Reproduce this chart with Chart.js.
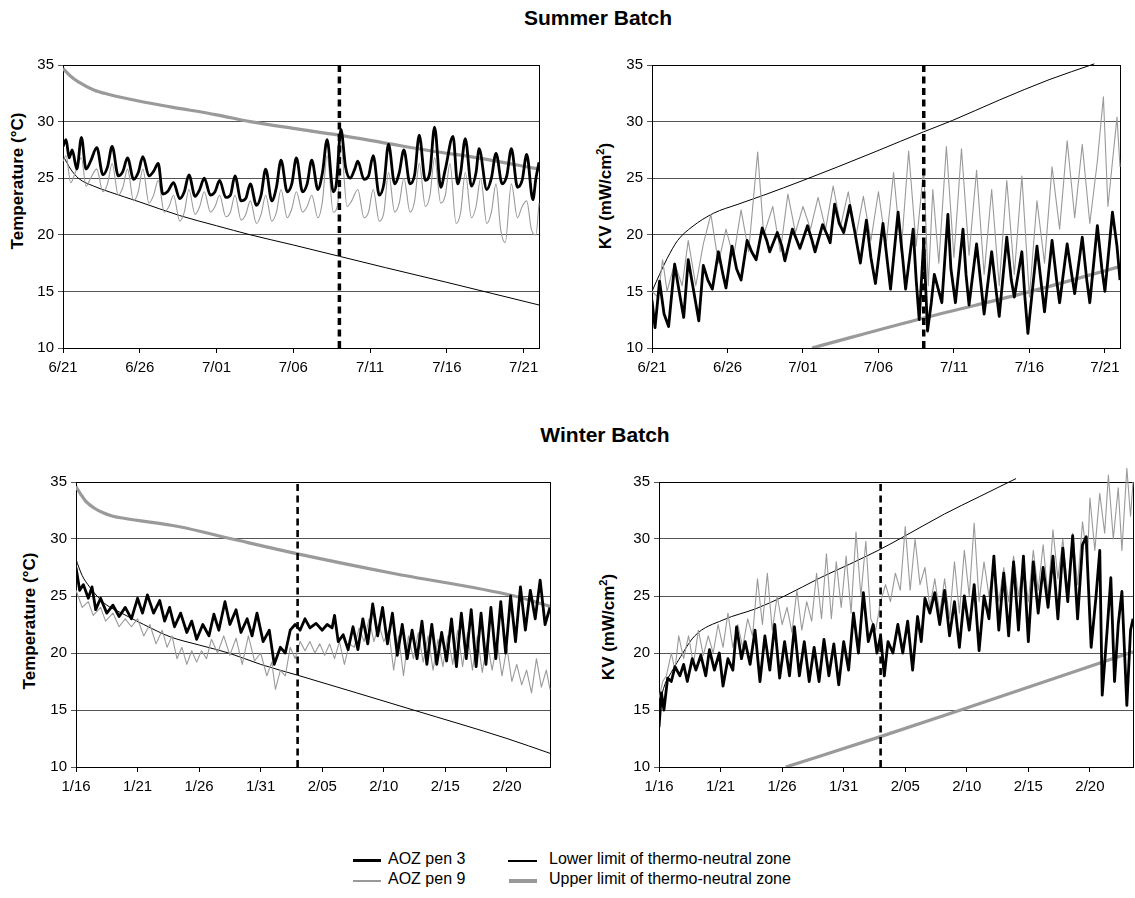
<!DOCTYPE html>
<html>
<head>
<meta charset="utf-8">
<title>Summer and Winter Batch</title>
<script src="https://cdn.jsdelivr.net/npm/chart.js@4.4.1/dist/chart.umd.min.js"></script>
<style>
  html, body { margin: 0; padding: 0; background: #fff; }
  body { width: 1135px; height: 898px; position: relative; overflow: hidden;
         font-family: "Liberation Sans", Arial, sans-serif; color: #000; }
  canvas { position: absolute; }
  .title { position: absolute; font-weight: bold; font-size: 21px; transform: translate(-50%, -50%); white-space: nowrap; }
  .ytitle { position: absolute; font-weight: bold; font-size: 17px; white-space: nowrap;
            transform: translate(-50%, -50%) rotate(-90deg); }
  .ytitle sup { font-size: 11px; }
  .sw { position: absolute; }
  .lt { position: absolute; font-size: 16px; line-height: 18px; white-space: nowrap; }
</style>
</head>
<body>

<div class="title" style="left:598px; top:18px;">Summer Batch</div>
<div class="title" style="left:605px; top:435px;">Winter Batch</div>

<div class="ytitle" style="left:18px; top:181px;">Temperature (°C)</div>
<div class="ytitle" style="left:605px; top:196px;">KV (mW/cm<sup>2</sup>)</div>
<div class="ytitle" style="left:30px; top:621px;">Temperature (°C)</div>
<div class="ytitle" style="left:608px; top:627px;">KV (mW/cm<sup>2</sup>)</div>

<canvas id="summerTemp"></canvas>
<canvas id="summerKv"></canvas>
<canvas id="winterTemp"></canvas>
<canvas id="winterKv"></canvas>

<div class="sw" style="left:353px; top:859px; width:28px; height:3px; background:#000;"></div>
<div class="lt" style="left:388px; top:850px;">AOZ pen 3</div>
<div class="sw" style="left:508px; top:860px; width:29px; height:1.5px; background:#000;"></div>
<div class="lt" style="left:549px; top:850px;">Lower limit of thermo-neutral zone</div>
<div class="sw" style="left:353px; top:880px; width:28px; height:1.5px; background:#999;"></div>
<div class="lt" style="left:388px; top:870px;">AOZ pen 9</div>
<div class="sw" style="left:509px; top:879px; width:28px; height:3.5px; background:#999;"></div>
<div class="lt" style="left:549px; top:870px;">Upper limit of thermo-neutral zone</div>

<script>
// x = days since the first date of the batch, y = reading
const summerTickLabels = ['6/21', '6/26', '7/01', '7/06', '7/11', '7/16', '7/21'];
const winterTickLabels = ['1/16', '1/21', '1/26', '1/31', '2/05', '2/10', '2/15', '2/20'];
const summerDays = 31;
const winterDays = 38.5;
const summerCutoff = 18;   // 7/09
const winterCutoff = 18;   // 2/03

// Summer temperature (°C)
const summerTempPen3 = [[0,27.8],[0.2,28.4],[0.4,26.8],[0.6,27.5],[0.9,25.8],[1.2,28.6],[1.5,25.8],[1.8,26.5],[2.2,27.7],[2.6,25.3],[2.9,26.0],[3.2,27.8],[3.6,25.2],[3.9,25.6],[4.2,26.8],[4.6,24.9],[4.9,25.5],[5.2,26.9],[5.6,25.2],[5.9,25.6],[6.2,26.3],[6.5,23.6],[6.8,23.8],[7.2,24.6],[7.6,23.2],[7.9,23.8],[8.2,25.3],[8.6,23.4],[8.9,24.0],[9.2,25.0],[9.6,23.5],[9.9,23.8],[10.2,24.8],[10.6,23.3],[10.9,23.5],[11.2,25.2],[11.6,23.0],[11.9,23.2],[12.2,24.5],[12.6,22.6],[12.9,23.5],[13.2,25.8],[13.6,23.0],[13.9,24.2],[14.2,26.6],[14.6,23.8],[14.9,24.5],[15.2,26.8],[15.6,23.8],[15.9,24.5],[16.2,26.6],[16.6,24.0],[16.9,25.5],[17.2,28.4],[17.6,23.8],[17.8,24.5],[18.1,29.3],[18.4,26.0],[18.7,25.0],[19.0,25.8],[19.2,26.5],[19.6,24.9],[19.9,25.2],[20.2,27.0],[20.6,23.5],[20.9,24.5],[21.2,28.0],[21.6,24.5],[21.9,25.5],[22.2,27.5],[22.6,24.5],[22.9,25.3],[23.2,28.8],[23.6,24.8],[23.9,25.6],[24.2,29.5],[24.6,24.2],[24.9,25.8],[25.4,28.7],[25.7,24.5],[25.9,25.5],[26.2,28.5],[26.6,24.3],[26.9,25.5],[27.1,27.6],[27.6,24.0],[27.9,25.0],[28.2,27.2],[28.6,24.5],[28.9,25.2],[29.2,27.6],[29.6,24.2],[29.9,24.8],[30.2,27.1],[30.6,23.1],[30.8,25.0],[31.0,26.4]];
const summerTempPen9 = [[0,26.5],[0.2,27.0],[0.5,24.6],[0.8,25.5],[1.2,26.8],[1.5,24.3],[1.8,25.0],[2.2,25.8],[2.6,23.8],[2.9,24.5],[3.2,26.3],[3.6,23.5],[3.9,24.2],[4.2,25.8],[4.6,23.0],[4.9,23.8],[5.2,25.8],[5.6,22.8],[5.9,23.5],[6.2,24.8],[6.6,22.0],[6.9,22.5],[7.2,23.5],[7.6,21.2],[7.9,22.0],[8.2,24.0],[8.6,21.8],[8.9,22.5],[9.2,23.8],[9.6,22.0],[9.9,22.5],[10.2,23.5],[10.6,21.6],[10.9,22.0],[11.2,23.5],[11.6,21.3],[11.9,21.8],[12.2,23.0],[12.6,21.0],[12.9,21.8],[13.2,23.5],[13.6,21.2],[13.9,22.0],[14.2,24.0],[14.6,21.5],[14.9,22.3],[15.2,23.8],[15.6,22.0],[15.9,22.5],[16.2,23.5],[16.6,21.5],[16.9,23.0],[17.2,27.0],[17.6,22.0],[17.9,22.8],[18.1,27.9],[18.5,22.5],[18.8,23.0],[19.2,24.0],[19.6,21.5],[19.9,22.0],[20.2,24.0],[20.6,21.2],[20.9,22.0],[21.2,25.5],[21.6,22.0],[21.9,22.8],[22.2,25.0],[22.6,22.0],[22.9,23.0],[23.2,26.3],[23.6,22.5],[23.9,23.5],[24.2,26.8],[24.6,22.8],[24.9,23.5],[25.2,26.3],[25.6,21.0],[25.9,22.0],[26.2,25.5],[26.6,21.5],[26.9,22.5],[27.2,25.0],[27.6,21.0],[27.9,22.0],[28.2,24.5],[28.5,20.5],[28.8,19.3],[29.2,24.5],[29.6,21.5],[29.9,22.5],[30.2,23.0],[30.5,20.5],[30.8,20.0],[31.0,22.8]];
const summerTempLower = [[0,27.0],[0.5,25.8],[1,25.0],[2,24.3],[3,23.8],[5,22.9],[7.6,21.7],[10,20.8],[12.2,20.0],[15,19.1],[18,18.1],[21,17.1],[25,15.8],[28,14.8],[31,13.8]];
const summerTempUpper = [[0,34.7],[0.5,34.0],[1,33.5],[2,32.8],[3,32.4],[5,31.8],[7,31.3],[10,30.6],[12.2,30.0],[15,29.4],[18,28.8],[21,28.1],[24,27.4],[27,26.8],[31,25.8]];

// Summer KV (mW/cm2)
const summerKvPen3 = [[0,14.2],[0.2,11.8],[0.5,15.9],[0.8,13.0],[1.1,11.9],[1.5,17.4],[1.8,15.0],[2.1,12.7],[2.4,17.8],[2.7,15.5],[3.1,12.4],[3.4,17.3],[3.7,16.0],[4.0,15.2],[4.4,18.5],[4.7,16.5],[4.9,15.3],[5.3,19.0],[5.6,17.0],[5.9,16.0],[6.3,19.5],[6.6,18.5],[6.9,17.8],[7.3,20.6],[7.6,19.5],[7.8,18.5],[8.3,20.2],[8.6,19.0],[8.8,17.7],[9.3,20.5],[9.6,19.5],[9.8,18.8],[10.3,20.8],[10.6,19.5],[10.8,18.5],[11.3,20.9],[11.6,20.0],[11.8,19.3],[12.1,22.7],[12.4,21.0],[12.7,20.2],[13.1,22.6],[13.4,20.5],[13.8,17.5],[14.2,21.3],[14.5,18.0],[14.8,15.7],[15.3,21.0],[15.6,17.5],[15.8,15.2],[16.3,22.0],[16.6,18.0],[16.8,15.2],[17.3,20.5],[17.5,16.0],[17.7,12.5],[18.0,19.5],[18.25,11.5],[18.5,14.0],[18.7,16.5],[19.2,14.0],[19.6,21.8],[19.8,17.0],[20.1,14.0],[20.6,20.5],[20.8,16.5],[21.0,13.8],[21.5,19.2],[21.8,15.5],[22.0,13.0],[22.5,18.5],[22.8,15.0],[23.0,12.8],[23.5,19.8],[23.8,16.0],[24.0,14.5],[24.5,18.5],[24.7,14.5],[24.9,11.3],[25.5,19.0],[25.8,15.5],[26.0,13.2],[26.5,19.5],[26.8,16.0],[27.0,14.0],[27.5,19.2],[27.8,16.5],[28.0,14.8],[28.5,19.8],[28.8,16.0],[29.0,14.0],[29.5,20.8],[29.8,17.0],[30.0,15.0],[30.5,22.0],[30.8,19.0],[31.0,16.0]];
const summerKvPen9 = [[0,15.0],[0.4,14.5],[0.7,17.8],[1.0,15.0],[1.5,17.5],[2.0,15.5],[2.4,19.5],[2.9,15.5],[3.4,19.2],[3.9,21.8],[4.4,17.5],[4.9,20.5],[5.4,18.0],[5.9,22.2],[6.4,18.5],[7.0,27.3],[7.4,20.0],[8.0,22.5],[8.5,18.5],[9.0,23.6],[9.5,20.2],[10.0,22.5],[10.5,20.5],[11.0,23.3],[11.5,20.5],[12.0,24.3],[12.5,20.8],[13.0,23.8],[13.5,19.8],[14.0,23.4],[14.5,19.5],[15.0,23.8],[15.5,19.0],[16.0,25.5],[16.5,18.5],[17.0,27.4],[17.5,19.0],[18.0,25.9],[18.3,15.5],[18.6,24.0],[19.0,17.5],[19.5,27.8],[20.0,18.0],[20.5,27.6],[21.0,18.2],[21.5,25.7],[22.0,16.5],[22.5,24.0],[23.0,15.5],[23.5,24.8],[24.0,16.5],[24.5,25.2],[25.0,14.5],[25.5,23.0],[26.0,17.5],[26.5,26.0],[27.0,20.5],[27.5,28.3],[28.0,21.5],[28.5,28.0],[29.0,21.0],[29.5,26.5],[29.9,32.2],[30.2,22.5],[30.8,30.4],[31.0,26.0]];
const summerKvLower = [[0,15.0],[0.5,16.5],[1,17.9],[1.7,19.5],[2.65,20.7],[4.07,21.9],[5.7,22.7],[7.4,23.5],[10,24.8],[12.3,26.0],[14.9,27.4],[18,29.1],[19.9,30.1],[23,31.9],[26.3,33.7],[29.3,35.1]];
const summerKvUpper = [[10.6,10.0],[18,12.65],[25.1,15.0],[31,17.2]];

// Winter temperature (°C)
const winterTempPen3 = [[0,27.5],[0.3,25.5],[0.6,26.0],[1.0,24.8],[1.3,25.8],[1.6,23.8],[2.0,24.8],[2.5,23.5],[3.0,24.2],[3.5,23.2],[4.0,24.0],[4.5,23.0],[5.0,24.8],[5.4,23.5],[5.8,25.1],[6.3,23.5],[6.8,24.6],[7.2,22.8],[7.6,24.0],[8.0,22.3],[8.5,23.5],[9.0,21.8],[9.4,22.8],[9.8,21.2],[10.3,22.5],[10.8,21.5],[11.2,23.4],[11.6,22.0],[12.1,24.5],[12.5,22.5],[13.0,23.8],[13.4,21.8],[13.9,23.0],[14.3,21.5],[14.7,23.5],[15.2,21.0],[15.7,22.0],[16.1,19.0],[16.6,20.5],[17.0,20.0],[17.4,22.0],[17.8,22.5],[18.2,22.0],[18.6,23.0],[19.0,22.2],[19.5,22.6],[20.0,22.0],[20.4,22.5],[20.8,22.2],[21.0,23.3],[21.3,21.0],[21.7,21.6],[22.1,20.3],[22.5,22.3],[22.9,20.3],[23.3,23.0],[23.7,20.8],[24.1,24.3],[24.5,21.5],[24.9,24.0],[25.3,20.8],[25.7,23.5],[26.1,19.8],[26.5,22.5],[26.9,19.5],[27.3,22.0],[27.7,19.5],[28.1,22.8],[28.5,19.0],[28.9,22.5],[29.3,19.0],[29.7,21.8],[30.1,19.3],[30.5,23.0],[30.9,18.8],[31.3,23.5],[31.7,19.5],[32.1,23.8],[32.5,18.8],[32.9,23.5],[33.3,19.0],[33.7,24.0],[34.1,19.5],[34.5,24.5],[34.9,20.0],[35.3,25.0],[35.7,21.0],[36.1,25.8],[36.5,22.0],[36.9,25.5],[37.3,23.0],[37.7,26.4],[38.1,22.5],[38.5,24.0]];
const winterTempPen9 = [[0,25.5],[0.5,24.0],[1.0,24.5],[1.4,23.3],[2.0,24.0],[2.4,22.8],[3.0,23.5],[3.5,22.3],[4.0,23.0],[4.5,22.3],[5.0,23.0],[5.5,21.5],[6.0,22.5],[6.5,20.8],[7.0,22.0],[7.4,20.5],[7.8,21.5],[8.2,19.5],[8.6,20.5],[9.0,19.0],[9.4,20.2],[9.8,19.2],[10.2,20.2],[10.6,19.5],[11.0,21.2],[11.5,20.0],[12.0,21.5],[12.5,19.8],[13.0,21.3],[13.5,19.0],[14.0,21.5],[14.5,19.3],[15.0,20.0],[15.5,18.0],[15.9,19.2],[16.2,16.8],[16.6,18.5],[17.0,18.0],[17.4,20.5],[17.8,19.5],[18.2,21.0],[18.6,20.2],[19.0,21.0],[19.4,20.0],[19.8,20.8],[20.2,19.8],[20.6,20.8],[21.0,19.5],[21.4,21.0],[21.8,19.0],[22.2,20.8],[22.6,20.5],[23.0,22.2],[23.4,21.0],[23.8,23.0],[24.2,21.0],[24.6,22.5],[25.0,21.0],[25.4,22.0],[25.8,18.5],[26.2,21.5],[26.6,18.0],[27.0,21.5],[27.4,19.5],[27.8,21.8],[28.2,19.2],[28.6,21.5],[29.0,18.5],[29.4,21.2],[29.8,18.8],[30.2,21.5],[30.6,19.0],[31.0,22.0],[31.4,18.8],[31.8,21.8],[32.2,18.5],[32.6,21.5],[33.0,18.3],[33.4,21.0],[33.8,18.5],[34.2,21.0],[34.6,18.0],[35.0,20.5],[35.4,17.5],[35.8,19.0],[36.2,17.2],[36.6,18.5],[37.0,16.5],[37.4,19.5],[37.8,17.0],[38.2,18.5],[38.5,16.8]];
const winterTempLower = [[0,28.2],[0.5,26.8],[1.1,25.8],[1.7,25.0],[2.5,24.2],[3.7,23.5],[5.5,22.5],[7.7,21.4],[10,20.7],[12.4,20.0],[15,19.0],[18,18.05],[22.8,16.5],[27.4,15.0],[35,12.5],[38.5,11.2]];
const winterTempUpper = [[0,34.6],[0.4,33.9],[0.8,33.3],[1.5,32.7],[2.2,32.3],[3,32.0],[4,31.8],[8.3,31.1],[12.7,30.0],[18,28.7],[25.7,27.0],[35.6,25.0],[38.5,24.1]];

// Winter KV (mW/cm2)
const winterKvPen3 = [[0,13.5],[0.2,16.5],[0.4,15.0],[0.7,17.8],[1.0,17.5],[1.3,18.8],[1.7,18.0],[2.0,19.0],[2.3,17.5],[2.7,19.5],[3.0,18.5],[3.4,19.8],[3.8,18.0],[4.1,20.3],[4.5,18.5],[4.9,20.0],[5.2,17.1],[5.6,19.5],[6.0,18.5],[6.3,22.3],[6.7,19.5],[7.0,21.0],[7.4,19.0],[7.8,22.0],[8.2,17.5],[8.6,21.5],[9.0,18.5],[9.4,22.5],[9.8,17.8],[10.2,21.0],[10.6,18.0],[11.0,22.3],[11.4,18.0],[11.8,21.0],[12.2,17.5],[12.6,20.5],[13.0,17.5],[13.4,21.2],[13.8,18.0],[14.2,20.8],[14.6,17.2],[15.0,21.0],[15.4,18.5],[15.8,23.5],[16.2,20.0],[16.6,25.3],[17.0,21.0],[17.4,22.5],[17.7,20.0],[18.0,21.5],[18.3,18.0],[18.6,21.0],[19.0,20.0],[19.4,22.5],[19.8,20.0],[20.2,22.8],[20.6,18.5],[21.0,23.2],[21.3,21.0],[21.6,24.8],[22.0,23.5],[22.4,25.3],[22.8,22.5],[23.2,25.5],[23.6,21.5],[24.0,24.5],[24.4,20.5],[24.8,25.0],[25.2,22.0],[25.6,26.0],[26.0,20.2],[26.4,25.0],[26.8,23.0],[27.2,28.5],[27.6,22.0],[28.0,27.0],[28.4,21.5],[28.8,28.0],[29.2,22.0],[29.6,28.5],[30.0,21.0],[30.4,28.0],[30.8,23.5],[31.2,27.5],[31.6,24.0],[32.0,28.5],[32.4,23.0],[32.8,29.2],[33.2,24.5],[33.6,30.3],[34.0,23.0],[34.4,29.5],[34.7,30.2],[35.1,20.5],[35.5,25.0],[35.8,29.0],[36.0,16.3],[36.4,22.0],[36.7,26.6],[37.0,17.5],[37.3,22.5],[37.6,25.4],[38.0,15.4],[38.3,22.0],[38.5,23.0]];
const winterKvPen9 = [[0,16.0],[0.3,17.5],[0.6,18.0],[1.0,20.0],[1.3,18.5],[1.6,21.5],[2.0,19.5],[2.4,21.5],[2.8,19.0],[3.2,22.0],[3.6,19.8],[4.0,21.5],[4.4,20.0],[4.8,22.5],[5.2,20.5],[5.6,23.5],[6.0,20.5],[6.4,22.5],[6.8,20.5],[7.2,23.0],[7.6,21.5],[8.0,26.5],[8.4,22.5],[8.8,27.0],[9.2,22.0],[9.6,25.0],[10.0,22.5],[10.4,24.0],[10.8,21.8],[11.2,25.5],[11.6,22.0],[12.0,24.5],[12.4,22.8],[12.8,27.0],[13.2,23.0],[13.6,28.7],[14.0,23.0],[14.4,28.0],[14.8,24.0],[15.2,28.5],[15.6,23.5],[16.0,30.6],[16.4,25.0],[16.8,29.8],[17.2,23.0],[17.6,22.0],[18.0,24.5],[18.4,26.0],[18.8,24.5],[19.2,27.0],[19.6,25.5],[20.0,31.1],[20.4,25.5],[20.8,30.0],[21.2,26.0],[21.6,27.5],[22.0,24.0],[22.4,26.5],[22.8,23.5],[23.2,26.5],[23.6,23.0],[24.0,28.0],[24.4,23.5],[24.8,29.0],[25.2,25.0],[25.6,31.4],[26.0,24.5],[26.4,28.0],[26.8,25.0],[27.2,28.0],[27.6,24.5],[28.0,27.5],[28.4,24.5],[28.8,28.5],[29.2,25.0],[29.6,28.0],[30.0,24.5],[30.4,29.0],[30.8,25.5],[31.2,29.5],[31.6,25.0],[32.0,30.8],[32.4,26.5],[32.8,30.0],[33.2,25.5],[33.6,30.5],[34.0,26.0],[34.4,31.5],[34.8,28.0],[35.0,33.6],[35.4,29.0],[35.8,34.0],[36.2,30.5],[36.5,35.6],[36.9,30.0],[37.3,34.5],[37.6,29.0],[38.0,36.2],[38.3,32.0],[38.5,35.0]];
const winterKvLower = [[0,15.5],[0.5,17.3],[1,18.3],[1.6,19.4],[2.9,21.5],[5.2,22.9],[7.9,23.9],[10.2,25.0],[13.1,26.6],[15.5,27.8],[17.8,29.0],[19.7,30.1],[23.2,32.2],[26,33.7],[29,35.3]];
const winterKvUpper = [[10.3,10.0],[17.8,12.6],[24.5,15.0],[38.5,20.1]];

Chart.defaults.font.family = '"Liberation Sans", Arial, sans-serif';
Chart.defaults.font.size = 15;
Chart.defaults.color = '#000';

// box around the plot area, drawn under the data lines
const frame = {
  id: 'frame',
  beforeDatasetsDraw(chart) {
    const { ctx, chartArea: a } = chart;
    ctx.save();
    ctx.strokeStyle = '#000';
    ctx.lineWidth = 1;
    ctx.strokeRect(Math.round(a.left) + 0.5, Math.round(a.top) + 0.5,
                   Math.round(a.right - a.left), Math.round(a.bottom - a.top));
    ctx.restore();
  }
};

function makePanel(id, box, xMax, tickLabels, s) {
  const canvas = document.getElementById(id);
  canvas.width = box.w;
  canvas.height = box.h;
  canvas.style.left = box.x + 'px';
  canvas.style.top = box.y + 'px';

  const penCurve = s.smoothPens ? 'monotone' : 'default';

  return new Chart(canvas, {
    type: 'line',
    data: {
      datasets: [
        { data: [[s.cutoff, 10], [s.cutoff, 35]], borderColor: '#000', borderWidth: s.dashWidth, borderDash: [7, 4.5] },
        { data: s.pen3, borderColor: '#000', borderWidth: 2.8, cubicInterpolationMode: penCurve },
        { data: s.pen9, borderColor: '#9a9a9a', borderWidth: 1.1, cubicInterpolationMode: penCurve,
          clip: { left: 0, top: 18, right: 2, bottom: 0 } },
        { data: s.lower, borderColor: '#000', borderWidth: 1, cubicInterpolationMode: 'monotone',
          clip: { left: 0, top: 6, right: 0, bottom: 0 } },
        { data: s.upper, borderColor: '#9a9a9a', borderWidth: 3.2, cubicInterpolationMode: 'monotone' }
      ]
    },
    options: {
      responsive: false,
      animation: false,
      layout: { autoPadding: false, padding: { left: 0, top: box.padTop, right: box.padRight, bottom: 0 } },
      plugins: { legend: { display: false }, tooltip: { enabled: false } },
      elements: { point: { radius: 0 }, line: { tension: 0, borderJoinStyle: 'round' } },
      scales: {
        x: {
          type: 'linear', min: 0, max: xMax,
          ticks: { stepSize: 5, includeBounds: false, padding: 6, maxRotation: 0, autoSkip: false,
                   callback: (v) => tickLabels[Math.round(v / 5)] },
          grid: { drawOnChartArea: false, drawTicks: true, tickLength: 5, color: '#000' },
          border: { color: '#000' },
          afterFit: (scale) => { scale.height = box.xAxisH; }
        },
        y: {
          min: 10, max: 35,
          ticks: { stepSize: 5, padding: 4 },
          grid: { color: '#555', tickLength: 5 },
          border: { color: '#000' },
          afterFit: (scale) => { scale.width = box.yAxisW; }
        }
      }
    },
    plugins: [frame]
  });
}

makePanel('summerTemp', { x: 0, y: 40, w: 560, h: 350, padTop: 25, padRight: 21, yAxisW: 63, xAxisH: 42 },
  summerDays, summerTickLabels,
  { pen3: summerTempPen3, pen9: summerTempPen9, lower: summerTempLower, upper: summerTempUpper,
    cutoff: summerCutoff, dashWidth: 3.5, smoothPens: true });

makePanel('summerKv', { x: 570, y: 40, w: 565, h: 350, padTop: 25, padRight: 15, yAxisW: 82, xAxisH: 42 },
  summerDays, summerTickLabels,
  { pen3: summerKvPen3, pen9: summerKvPen9, lower: summerKvLower, upper: summerKvUpper,
    cutoff: summerCutoff, dashWidth: 3.5, smoothPens: false });

makePanel('winterTemp', { x: 0, y: 457, w: 565, h: 350, padTop: 25, padRight: 15, yAxisW: 76, xAxisH: 40 },
  winterDays, winterTickLabels,
  { pen3: winterTempPen3, pen9: winterTempPen9, lower: winterTempLower, upper: winterTempUpper,
    cutoff: winterCutoff, dashWidth: 2.6, smoothPens: false });

makePanel('winterKv', { x: 575, y: 457, w: 560, h: 350, padTop: 25, padRight: 2, yAxisW: 84, xAxisH: 40 },
  winterDays, winterTickLabels,
  { pen3: winterKvPen3, pen9: winterKvPen9, lower: winterKvLower, upper: winterKvUpper,
    cutoff: winterCutoff, dashWidth: 2.6, smoothPens: false });
</script>
</body>
</html>
